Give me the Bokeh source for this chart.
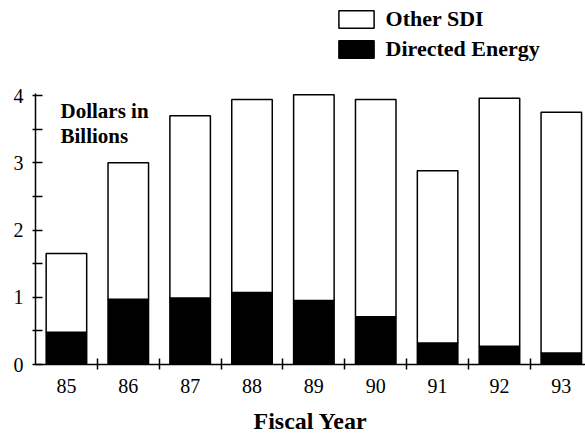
from bokeh.plotting import figure
from bokeh.models import Range1d, FixedTicker, Legend, LegendItem, Label, ColumnDataSource
from bokeh.embed import file_html
from bokeh.resources import INLINE

# ---- data ----
years = ["85", "86", "87", "88", "89", "90", "91", "92", "93"]
directed_energy = [0.48, 0.97, 0.99, 1.07, 0.95, 0.71, 0.32, 0.27, 0.17]
other_sdi = [1.17, 2.03, 2.71, 2.87, 3.06, 3.23, 2.56, 3.69, 3.58]
y_ticks = [0, 1, 2, 3, 4]
y_minor = [0.5, 1.5, 2.5, 3.5]

FONT = "Liberation Serif"

xs = list(range(len(years)))
src = ColumnDataSource(dict(x=xs, directed=directed_energy, other=other_sdi))

p = figure(width=585, height=436, output_backend="svg", toolbar_location=None,
           x_range=Range1d(-0.5, 8.391), y_range=Range1d(0, 5.413),
           min_border_left=35, min_border_right=0, min_border_top=0, min_border_bottom=72)
p.outline_line_color = None
p.xgrid.grid_line_color = None
p.ygrid.grid_line_color = None
p.background_fill_color = "white"

rs = p.vbar_stack(["directed", "other"], x="x", width=0.655, source=src,
                  fill_color=["black", "white"], line_color="black", line_width=1.5)

# x axis
xa = p.xaxis[0]
xa.ticker = FixedTicker(ticks=xs, minor_ticks=[i + 0.5 for i in xs[:-1]])
xa.major_label_overrides = {i: y for i, y in zip(xs, years)}
xa.major_tick_in = 0
xa.major_tick_out = 0
xa.minor_tick_in = 6
xa.minor_tick_out = 5
xa.minor_tick_line_color = "black"
xa.minor_tick_line_width = 1.5
xa.axis_line_color = "black"
xa.axis_line_width = 1.5
xa.major_label_text_font = FONT
xa.major_label_text_font_size = "20px"
xa.major_label_text_color = "black"
xa.major_label_standoff = 9
xa.axis_label = "Fiscal Year"
xa.axis_label_text_font = FONT
xa.axis_label_text_font_style = "bold"
xa.axis_label_text_font_size = "24px"
xa.axis_label_text_color = "black"
xa.axis_label_standoff = 12

# y axis
ya = p.yaxis[0]
ya.bounds = (0, 4.03)
ya.ticker = FixedTicker(ticks=y_ticks, minor_ticks=y_minor)
ya.major_tick_in = 7
ya.major_tick_out = 3
ya.minor_tick_in = 7
ya.minor_tick_out = 3
ya.major_tick_line_width = 1.5
ya.minor_tick_line_width = 1.5
ya.major_tick_line_color = "black"
ya.minor_tick_line_color = "black"
ya.axis_line_color = "black"
ya.axis_line_width = 1.5
ya.major_label_text_font = FONT
ya.major_label_text_font_size = "20px"
ya.major_label_text_color = "black"
ya.major_label_standoff = 9

# unit label
for txt, yv in [("Dollars in", 3.777), ("Billions", 3.405)]:
    p.add_layout(Label(x=-0.096, y=yv, text=txt, text_font=FONT, text_font_style="bold",
                       text_font_size="21px", text_color="black", text_baseline="alphabetic"))

legend = Legend(items=[LegendItem(label="Other SDI", renderers=[rs[1]]),
                       LegendItem(label="Directed Energy", renderers=[rs[0]])],
                location=(298.6, 302.5), orientation="vertical", padding=0, margin=0,
                border_line_color=None, background_fill_alpha=0,
                label_text_font=FONT, label_text_font_style="bold", label_text_font_size="22px",
                label_text_color="black",
                glyph_width=44, glyph_height=22, label_height=22, label_standoff=8, spacing=4)
p.add_layout(legend)

open("out.html", "w").write(file_html(p, INLINE))
